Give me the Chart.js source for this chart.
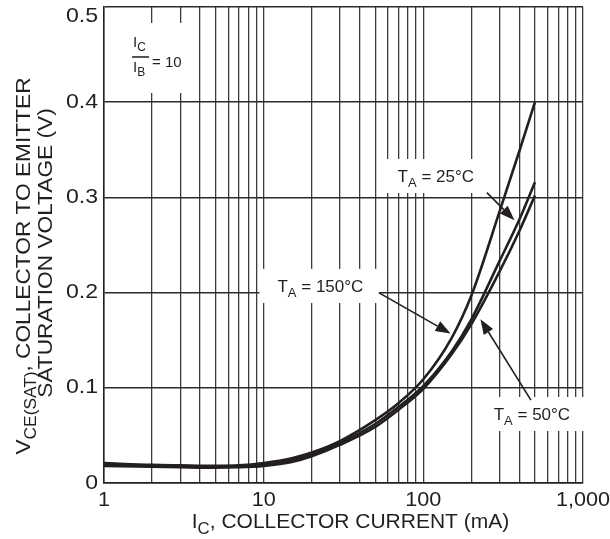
<!DOCTYPE html>
<html>
<head>
<meta charset="utf-8">
<script src="https://cdn.jsdelivr.net/npm/chart.js@4.4.1/dist/chart.umd.min.js"></script>
<style>
  html, body { margin: 0; padding: 0; background: #fff; }
  #wrap { position: relative; width: 610px; height: 539px; }
</style>
</head>
<body>
<div id="wrap"><canvas id="vceChart" width="610" height="539"></canvas></div>
<script>
// VCE(sat) vs IC, IC/IB = 10
const current = [1, 2, 3, 5, 7, 10, 15, 20, 30, 50, 70, 100, 150, 200, 300, 400, 500];
const vce150 = [0.021, 0.019, 0.0185, 0.018, 0.0185, 0.021, 0.026, 0.032, 0.044, 0.066, 0.084, 0.109, 0.152, 0.197, 0.285, 0.349, 0.400];
const vce25  = [0.0195, 0.018, 0.0175, 0.017, 0.0175, 0.0195, 0.024, 0.030, 0.042, 0.062, 0.080, 0.102, 0.138, 0.172, 0.233, 0.277, 0.316];
const vce50  = [0.018, 0.017, 0.0165, 0.016, 0.0165, 0.018, 0.022, 0.028, 0.040, 0.059, 0.077, 0.099, 0.135, 0.167, 0.222, 0.265, 0.302];

const xDecades = [1, 10, 100, 1000];
const xTickLabels = ['1', '10', '100', '1,000'];
const yTickValues = [0, 0.1, 0.2, 0.3, 0.4, 0.5];
const yTickLabels = ['0', '0.1', '0.2', '0.3', '0.4', '0.5'];

// curve labels: [I, V] of text left / middle, arrow tail and tip
const labels = [
  { sub: 'A', text: ' = 25°C',  at: [69, 0.3225],  tail: [250, 0.305], tip: [372, 0.276] },
  { sub: 'A', text: ' = 150°C', at: [12.2, 0.207], tail: [52.5, 0.2],  tip: [148, 0.157] },
  { sub: 'A', text: ' = 50°C',  at: [276, 0.0725], tail: [472, 0.087], tip: [228, 0.172] }
];
const ratioAt = [1.52, 0.4475];

const INK = '#231f20';
const FONT = "'Liberation Sans', Arial, sans-serif";

const toPoints = (vals) => current.map((c, i) => ({ x: c, y: vals[i] }));

// draw a run of text pieces, some subscripted, optionally stretched wide
const drawRich = (ctx, parts, x, y, size, align, sx) => {
  sx = sx || 1;
  const subSize = Math.round(size * 0.78);
  let total = 0;
  parts.forEach(p => {
    ctx.font = (p.sub ? subSize : size) + 'px ' + FONT;
    p.w = ctx.measureText(p.t).width;
    total += p.w;
  });
  ctx.save();
  ctx.translate(align === 'center' ? x - total * sx / 2 : x, y);
  ctx.scale(sx, 1);
  let cx = 0;
  parts.forEach(p => {
    ctx.font = (p.sub ? subSize : size) + 'px ' + FONT;
    ctx.fillText(p.t, cx, p.sub ? size * 0.3 : 0);
    cx += p.w;
  });
  ctx.restore();
  return total * sx;
};

const drawArrow = (ctx, x0, y0, x1, y1) => {
  const ang = Math.atan2(y1 - y0, x1 - x0);
  const len = 15, half = 5.5;
  const bx = x1 - Math.cos(ang) * len, by = y1 - Math.sin(ang) * len;
  ctx.beginPath();
  ctx.moveTo(x0, y0);
  ctx.lineTo(bx, by);
  ctx.lineWidth = 1.6;
  ctx.strokeStyle = INK;
  ctx.stroke();
  ctx.beginPath();
  ctx.moveTo(x1, y1);
  ctx.lineTo(bx - Math.sin(ang) * half, by + Math.cos(ang) * half);
  ctx.lineTo(bx + Math.sin(ang) * half, by - Math.cos(ang) * half);
  ctx.closePath();
  ctx.fillStyle = INK;
  ctx.fill();
};

// white boxes behind the labels, over the grid but under the curves
const labelBoxes = {
  id: 'labelBoxes',
  beforeDatasetsDraw(chart) {
    const { ctx, scales: { x, y } } = chart;
    ctx.save();
    ctx.fillStyle = '#ffffff';
    labels.forEach(l => {
      const px = x.getPixelForValue(l.at[0]);
      const py = y.getPixelForValue(l.at[1]);
      ctx.font = '17px ' + FONT;
      const w = ctx.measureText('T' + l.text).width + 10;
      ctx.fillRect(px - 18, py - 17, w + 33, 34);
    });
    const rx = x.getPixelForValue(ratioAt[0]);
    const ry = y.getPixelForValue(ratioAt[1]);
    ctx.fillRect(rx - 6, ry - 34, 68, 70);
    ctx.restore();
  },
  afterDatasetsDraw(chart) {
    const { ctx, scales: { x, y } } = chart;
    ctx.save();
    ctx.fillStyle = INK;
    ctx.textBaseline = 'alphabetic';
    ctx.textAlign = 'left';
    labels.forEach(l => {
      const px = x.getPixelForValue(l.at[0]);
      const py = y.getPixelForValue(l.at[1]);
      ctx.fillStyle = INK;
      drawRich(ctx, [{ t: 'T' }, { t: l.sub, sub: true }, { t: l.text }], px, py + 6, 17, 'left');
      drawArrow(ctx,
        x.getPixelForValue(l.tail[0]), y.getPixelForValue(l.tail[1]),
        x.getPixelForValue(l.tip[0]), y.getPixelForValue(l.tip[1]));
    });
    // IC / IB = 10
    const rx = x.getPixelForValue(ratioAt[0]);
    const ry = y.getPixelForValue(ratioAt[1]);
    ctx.fillStyle = INK;
    drawRich(ctx, [{ t: 'I' }, { t: 'C', sub: true }], rx, ry - 10, 15, 'left');
    drawRich(ctx, [{ t: 'I' }, { t: 'B', sub: true }], rx, ry + 15, 15, 'left');
    ctx.fillRect(rx - 1, ry - 0.75, 17, 1.5);
    ctx.font = '15px ' + FONT;
    ctx.fillText('= 10', rx + 19, ry + 10);
    ctx.restore();
  }
};

// tick labels and axis titles
const axisText = {
  id: 'axisText',
  afterDraw(chart) {
    const { ctx, chartArea, scales: { x, y } } = chart;
    ctx.save();
    ctx.fillStyle = INK;
    ctx.font = '20px ' + FONT;
    ctx.textAlign = 'left';
    ctx.textBaseline = 'alphabetic';
    xDecades.forEach((v, i) => {
      drawRich(ctx, [{ t: xTickLabels[i] }], x.getPixelForValue(v), chartArea.bottom + 23, 20, 'center', 1.08);
    });
    yTickValues.forEach((v, i) => {
      const py = Math.max(y.getPixelForValue(v) - 2, chartArea.top + 7);
      ctx.font = '21px ' + FONT;
      const w = ctx.measureText(yTickLabels[i]).width * 1.1;
      drawRich(ctx, [{ t: yTickLabels[i] }], chartArea.left - 6 - w, py + 7.5, 21, 'left', 1.1);
    });
    const cx = (chartArea.left + chartArea.right) / 2 + 7;
    drawRich(ctx, [{ t: 'I' }, { t: 'C', sub: true }, { t: ', COLLECTOR CURRENT (mA)' }], cx, chartArea.bottom + 45, 20, 'center', 1.05);

    ctx.rotate(-Math.PI / 2);
    drawRich(ctx, [{ t: 'V' }, { t: 'CE(SAT)', sub: true }, { t: ', COLLECTOR TO EMITTER' }], -266, 30, 21, 'center', 1.08);
    drawRich(ctx, [{ t: 'SATURATION VOLTAGE (V)' }], -253, 52, 21, 'center', 1.08);
    ctx.restore();
  }
};

const lineSet = (label, vals) => ({
  label: label,
  data: toPoints(vals),
  borderColor: INK,
  borderWidth: 2.6,
  pointRadius: 0,
  fill: false,
  cubicInterpolationMode: 'monotone'
});

new Chart(document.getElementById('vceChart'), {
  type: 'line',
  data: {
    datasets: [
      lineSet('TA = 150°C', vce150),
      lineSet('TA = 25°C', vce25),
      lineSet('TA = 50°C', vce50)
    ]
  },
  options: {
    responsive: false,
    devicePixelRatio: 1,
    animation: false,
    layout: { padding: { left: 0, top: 7, right: 27, bottom: 0 } },
    plugins: {
      legend: { display: false },
      tooltip: { enabled: false }
    },
    scales: {
      x: {
        type: 'logarithmic',
        min: 1,
        max: 1000,
        afterBuildTicks: (scale) => {
          const t = [];
          xDecades.slice(0, 3).forEach(d => {
            for (let m = 1; m < 10; m++) t.push({ value: m * d });
          });
          t.push({ value: 1000 });
          scale.ticks = t;
        },
        afterFit: (scale) => { scale.height = 56; },
        grid: { color: '#3c3c3c', lineWidth: 1.3, drawTicks: false },
        border: { color: INK, width: 1.5 },
        ticks: { display: false, autoSkip: false }
      },
      y: {
        type: 'linear',
        min: 0,
        max: 0.5,
        afterFit: (scale) => { scale.width = 104; },
        grid: { color: '#2a2a2a', lineWidth: 1.4, drawTicks: false },
        border: { color: INK, width: 1.5 },
        ticks: { display: false, stepSize: 0.1 }
      }
    }
  },
  plugins: [labelBoxes, axisText]
});
</script>
</body>
</html>
